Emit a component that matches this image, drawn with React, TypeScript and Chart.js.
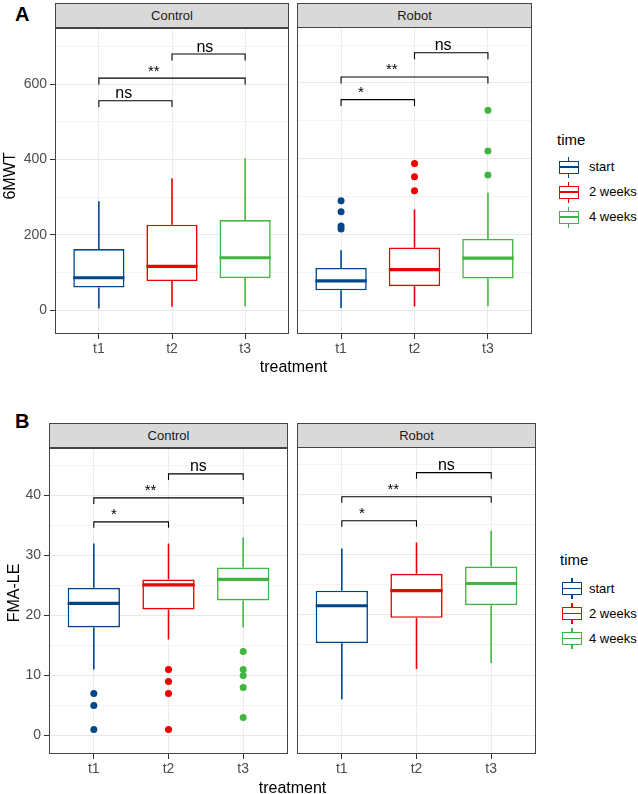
import React, { useEffect, useRef } from "react";
import { Chart, registerables } from "chart.js";

Chart.register(...registerables);

const FONT = "'Liberation Sans', Arial, Helvetica, sans-serif";
Chart.defaults.font.family = FONT;

// ---------- data ----------
const TREATMENTS = ["t1", "t2", "t3"];
const TREATMENT_POS = [1, 2, 3];
const TIMES = ["start", "2 weeks", "4 weeks"];
const COLORS = ["#00468B", "#ED0000", "#42B540"];
const FACETS = ["Control", "Robot"];

// boxplot stats per treatment: [lower whisker, Q1, median, Q3, upper whisker]
const MWT_CONTROL_STATS = [
  [4, 60, 86, 162, 289],
  [9, 77, 116, 227, 350],
  [10, 85, 139, 239, 403],
];
const MWT_CONTROL_OUTLIERS = [[], [], []];
const MWT_ROBOT_STATS = [
  [5, 52, 77, 111, 158],
  [9, 63, 107, 165, 266],
  [10, 83, 137, 188, 310],
];
const MWT_ROBOT_OUTLIERS = [
  [289, 260, 222, 214],
  [387, 352, 315],
  [528, 420, 357],
];

const FMA_CONTROL_STATS = [
  [11, 18, 22, 24.6, 32],
  [16, 21, 25.1, 26, 32],
  [18, 22.5, 26, 28, 33],
];
const FMA_CONTROL_OUTLIERS = [
  [7, 5, 1],
  [11, 9, 7, 1],
  [14, 11, 10, 8, 3],
];
const FMA_ROBOT_STATS = [
  [6, 15.3, 21.5, 24, 31],
  [11, 19.5, 24, 26.8, 32],
  [12, 21.6, 25.2, 28, 34],
];
const FMA_ROBOT_OUTLIERS = [[], [], []];

// axes
const MWT_Y_RANGE = [-63.4, 748];
const MWT_Y_MAJOR = [0, 200, 400, 600];
const MWT_Y_MINOR = [100, 300, 500, 700];
const FMA_Y_RANGE = [-3.1, 47.85];
const FMA_Y_MAJOR = [0, 10, 20, 30, 40];
const FMA_Y_MINOR = [5, 15, 25, 35, 45];

// significance brackets
const BRACKET_PAIRS = [
  [1, 2],
  [1, 3],
  [2, 3],
];
const MWT_BRACKET_Y = [556, 616, 680];
const MWT_BRACKET_TIP = 17;
const MWT_CONTROL_SIG = ["ns", "**", "ns"];
const MWT_CONTROL_SIG_X = [1.34, 1.75, 2.45];
const MWT_ROBOT_SIG = ["*", "**", "ns"];
const MWT_ROBOT_SIG_X = [1.27, 1.69, 2.39];
const FMA_BRACKET_Y = [35.6, 39.6, 43.6];
const FMA_BRACKET_TIP = 1;
const FMA_CONTROL_SIG = ["*", "**", "ns"];
const FMA_CONTROL_SIG_X = [1.27, 1.76, 2.4];
const FMA_ROBOT_SIG = ["*", "**", "ns"];
const FMA_ROBOT_SIG_X = [1.27, 1.69, 2.4];

// ---------- layout (pixels) ----------
type Frame = { left: number; right: number; top: number; bottom: number };

interface FacetSpec {
  name: string;
  frame: Frame;
  stripTop: number;
  showY: boolean;
  stats: number[][];
  outliers: number[][];
  yRange: number[];
  yMajor: number[];
  yMinor: number[];
  bracketY: number[];
  bracketTip: number;
  sig: string[];
  sigX: number[];
}

const PAD_T = 10;
const PAD_SIDE = 4;
const X_AXIS_H = 30;
const BOX_HALF = 0.35;

function Facet({ spec }: { spec: FacetSpec }) {
  const ref = useRef<HTMLCanvasElement | null>(null);
  const f = spec.frame;
  const cLeft = spec.showY ? 0 : f.left - PAD_SIDE;
  const cTop = f.top - PAD_T;
  const cW = f.right + PAD_SIDE - cLeft;
  const cH = f.bottom + X_AXIS_H - cTop;

  useEffect(() => {
    const canvas = ref.current;
    if (!canvas) return;
    const datasets: any[] = [];
    datasets.push({
      type: "bar",
      data: spec.stats.map((s, i) => ({ x: TREATMENT_POS[i], y: [s[1], s[3]] })),
      backgroundColor: "#ffffff",
      borderColor: COLORS,
      borderWidth: 1.6,
      borderSkipped: false,
      barPercentage: BOX_HALF * 2,
      categoryPercentage: 1,
      order: 3,
    });
    spec.stats.forEach((s, i) => {
      const x = TREATMENT_POS[i];
      const line = (data: any[], width: number, order: number) => ({
        type: "scatter",
        data,
        showLine: true,
        borderColor: COLORS[i],
        borderWidth: width,
        borderCapStyle: "butt",
        pointRadius: 0,
        pointHoverRadius: 0,
        fill: false,
        order,
      });
      datasets.push(line([{ x, y: s[3] }, { x, y: s[4] }], 1.6, 4));
      datasets.push(line([{ x, y: s[0] }, { x, y: s[1] }], 1.6, 4));
      datasets.push(
        line([{ x: x - BOX_HALF, y: s[2] }, { x: x + BOX_HALF, y: s[2] }], 3.2, 1)
      );
      datasets.push({
        type: "scatter",
        data: spec.outliers[i].map((v) => ({ x, y: v })),
        pointRadius: 3.5,
        pointHoverRadius: 3.5,
        pointBackgroundColor: COLORS[i],
        pointBorderColor: COLORS[i],
        pointBorderWidth: 0,
        showLine: false,
        order: 2,
      });
    });
    BRACKET_PAIRS.forEach(([a, b], k) => {
      const y = spec.bracketY[k];
      const t = y - spec.bracketTip;
      datasets.push({
        type: "scatter",
        data: [
          { x: a, y: t },
          { x: a, y },
          { x: b, y },
          { x: b, y: t },
        ],
        showLine: true,
        borderColor: "#000000",
        borderWidth: 1.1,
        pointRadius: 0,
        pointHoverRadius: 0,
        fill: false,
        order: 0,
      });
    });

    const isMajor = (v: number) => spec.yMajor.includes(v);
    const allY = [...spec.yMajor, ...spec.yMinor].sort((a, b) => a - b);

    const borderPlugin = {
      id: "panelBorder",
      afterDatasetsDraw(chart: any) {
        const { ctx, chartArea: a } = chart;
        ctx.save();
        ctx.strokeStyle = "#444444";
        ctx.lineWidth = 1;
        ctx.strokeRect(
          Math.round(a.left) + 0.5,
          Math.round(a.top) + 0.5,
          Math.round(a.right - a.left) - 1,
          Math.round(a.bottom - a.top) - 1
        );
        ctx.restore();
      },
    };
    const sigPlugin = {
      id: "sigLabels",
      afterDatasetsDraw(chart: any) {
        const { ctx } = chart;
        const xs = chart.scales.x;
        const ys = chart.scales.y;
        ctx.save();
        ctx.fillStyle = "#000000";
        ctx.textAlign = "center";
        ctx.textBaseline = "alphabetic";
        spec.sig.forEach((lab, k) => {
          ctx.font = `${lab === "ns" ? 16 : 15}px ${FONT}`;
          ctx.fillText(
            lab,
            xs.getPixelForValue(spec.sigX[k]),
            ys.getPixelForValue(spec.bracketY[k]) - 2.5
          );
        });
        ctx.restore();
      },
    };

    const chart = new Chart(canvas, {
      type: "scatter",
      data: { datasets },
      options: {
        responsive: false,
        maintainAspectRatio: false,
        animation: false,
        events: [],
        layout: {
          padding: {
            top: PAD_T,
            right: PAD_SIDE,
            bottom: 0,
            left: spec.showY ? 0 : PAD_SIDE,
          },
        },
        plugins: {
          legend: { display: false },
          tooltip: { enabled: false },
          title: { display: false },
        },
        scales: {
          x: {
            type: "linear",
            min: 0.4,
            max: 3.6,
            offset: false,
            afterBuildTicks: (s: any) => {
              s.ticks = TREATMENT_POS.map((v) => ({ value: v }));
            },
            afterFit: (s: any) => {
              s.height = X_AXIS_H;
            },
            ticks: {
              callback: (_v: any, i: number) => TREATMENTS[i],
              color: "#4d4d4d",
              font: { size: 14, family: FONT },
              padding: 2,
              maxRotation: 0,
              autoSkip: false,
            },
            grid: {
              offset: false,
              color: "#ebebeb",
              lineWidth: 1,
              drawTicks: true,
              tickLength: 5,
              tickColor: "#333333",
              tickWidth: 1,
            },
            border: { display: false },
          },
          y: {
            type: "linear",
            min: spec.yRange[0],
            max: spec.yRange[1],
            afterBuildTicks: (s: any) => {
              s.ticks = allY.map((v) => ({ value: v }));
            },
            afterFit: (s: any) => {
              s.width = spec.showY ? f.left : 0;
            },
            ticks: {
              display: spec.showY,
              callback: (v: any) => (isMajor(Number(v)) ? String(v) : ""),
              color: "#4d4d4d",
              font: { size: 14, family: FONT },
              padding: 3,
              autoSkip: false,
            },
            grid: {
              color: (ctx: any) =>
                ctx.tick && isMajor(ctx.tick.value) ? "#e8e8e8" : "#f3f3f3",
              lineWidth: 1,
              drawTicks: spec.showY,
              tickLength: 5,
              tickColor: (ctx: any) =>
                ctx.tick && isMajor(ctx.tick.value) ? "#333333" : "rgba(0,0,0,0)",
              tickWidth: 1,
            },
            border: { display: false },
          },
        },
      },
      plugins: [borderPlugin, sigPlugin],
    } as any);
    return () => chart.destroy();
  }, []);

  return (
    <>
      <div
        style={{
          position: "absolute",
          left: f.left,
          top: spec.stripTop,
          width: f.right - f.left,
          height: f.top - spec.stripTop + 1,
          boxSizing: "border-box",
          background: "#d9d9d9",
          border: "1px solid #444444",
          font: `13px ${FONT}`,
          color: "#1a1a1a",
          display: "flex",
          alignItems: "center",
          justifyContent: "center",
        }}
      >
        {spec.name}
      </div>
      <canvas
        ref={ref}
        width={cW}
        height={cH}
        style={{
          position: "absolute",
          left: cLeft,
          top: cTop,
          width: cW,
          height: cH,
        }}
      />
    </>
  );
}

function Legend({
  titleX,
  titleY,
  keyX,
  labelX,
  centers,
}: {
  titleX: number;
  titleY: number;
  keyX: number;
  labelX: number;
  centers: number[];
}) {
  const KW = 20;
  return (
    <>
      <div
        style={{
          position: "absolute",
          left: titleX,
          top: titleY - 9,
          font: `15px ${FONT}`,
          lineHeight: "18px",
          color: "#000",
        }}
      >
        time
      </div>
      {TIMES.map((t, i) => {
        const cy = centers[i];
        return (
          <React.Fragment key={t}>
            <div
              style={{
                position: "absolute",
                left: keyX + KW / 2 - 0.75,
                top: cy - 10.5,
                width: 1.5,
                height: 21,
                background: COLORS[i],
              }}
            />
            <div
              style={{
                position: "absolute",
                left: keyX,
                top: cy - 6.5,
                width: KW,
                height: 13,
                boxSizing: "border-box",
                border: `1.5px solid ${COLORS[i]}`,
                background: "#fff",
              }}
            />
            <div
              style={{
                position: "absolute",
                left: keyX,
                top: cy - 0.75,
                width: KW,
                height: 1.5,
                background: COLORS[i],
              }}
            />
            <div
              style={{
                position: "absolute",
                left: labelX,
                top: cy - 8,
                font: `13px ${FONT}`,
                lineHeight: "16px",
                color: "#000",
                whiteSpace: "nowrap",
              }}
            >
              {t}
            </div>
          </React.Fragment>
        );
      })}
    </>
  );
}

function Label({
  text,
  cx,
  cy,
  size,
  bold,
  rotate,
}: {
  text: string;
  cx: number;
  cy: number;
  size: number;
  bold?: boolean;
  rotate?: boolean;
}) {
  return (
    <div
      style={{
        position: "absolute",
        left: cx - 100,
        top: cy - size / 2,
        width: 200,
        height: size,
        lineHeight: `${size}px`,
        textAlign: "center",
        font: `${bold ? "bold " : ""}${size}px ${FONT}`,
        color: "#000",
        transform: rotate ? "rotate(-90deg)" : undefined,
        whiteSpace: "nowrap",
      }}
    >
      {text}
    </div>
  );
}

const FACET_SPECS: FacetSpec[] = [
  {
    name: FACETS[0],
    frame: { left: 55, right: 289, top: 27, bottom: 334 },
    stripTop: 3,
    showY: true,
    stats: MWT_CONTROL_STATS,
    outliers: MWT_CONTROL_OUTLIERS,
    yRange: MWT_Y_RANGE,
    yMajor: MWT_Y_MAJOR,
    yMinor: MWT_Y_MINOR,
    bracketY: MWT_BRACKET_Y,
    bracketTip: MWT_BRACKET_TIP,
    sig: MWT_CONTROL_SIG,
    sigX: MWT_CONTROL_SIG_X,
  },
  {
    name: FACETS[1],
    frame: { left: 297, right: 532, top: 27, bottom: 334 },
    stripTop: 3,
    showY: false,
    stats: MWT_ROBOT_STATS,
    outliers: MWT_ROBOT_OUTLIERS,
    yRange: MWT_Y_RANGE,
    yMajor: MWT_Y_MAJOR,
    yMinor: MWT_Y_MINOR,
    bracketY: MWT_BRACKET_Y,
    bracketTip: MWT_BRACKET_TIP,
    sig: MWT_ROBOT_SIG,
    sigX: MWT_ROBOT_SIG_X,
  },
  {
    name: FACETS[0],
    frame: { left: 49, right: 288, top: 447, bottom: 754 },
    stripTop: 423,
    showY: true,
    stats: FMA_CONTROL_STATS,
    outliers: FMA_CONTROL_OUTLIERS,
    yRange: FMA_Y_RANGE,
    yMajor: FMA_Y_MAJOR,
    yMinor: FMA_Y_MINOR,
    bracketY: FMA_BRACKET_Y,
    bracketTip: FMA_BRACKET_TIP,
    sig: FMA_CONTROL_SIG,
    sigX: FMA_CONTROL_SIG_X,
  },
  {
    name: FACETS[1],
    frame: { left: 297, right: 536, top: 447, bottom: 754 },
    stripTop: 423,
    showY: false,
    stats: FMA_ROBOT_STATS,
    outliers: FMA_ROBOT_OUTLIERS,
    yRange: FMA_Y_RANGE,
    yMajor: FMA_Y_MAJOR,
    yMinor: FMA_Y_MINOR,
    bracketY: FMA_BRACKET_Y,
    bracketTip: FMA_BRACKET_TIP,
    sig: FMA_ROBOT_SIG,
    sigX: FMA_ROBOT_SIG_X,
  },
];

export default function App() {
  return (
    <div
      style={{
        position: "absolute",
        left: 0,
        top: 0,
        width: 638,
        height: 794,
        background: "#ffffff",
        overflow: "hidden",
        fontFamily: FONT,
      }}
    >
      <div
        style={{
          position: "absolute",
          left: 15,
          top: 4,
          font: `bold 20px ${FONT}`,
          lineHeight: "20px",
        }}
      >
        A
      </div>
      <div
        style={{
          position: "absolute",
          left: 15,
          top: 411,
          font: `bold 20px ${FONT}`,
          lineHeight: "20px",
        }}
      >
        B
      </div>
      {FACET_SPECS.map((s, i) => (
        <Facet key={i} spec={s} />
      ))}
      <Label text="6MWT" cx={9} cy={176} size={16} rotate />
      <Label text="FMA-LE" cx={12.5} cy={593} size={16} rotate />
      <Label text="treatment" cx={293.5} cy={366} size={16} />
      <Label text="treatment" cx={292.5} cy={787} size={16} />
      <Legend titleX={557} titleY={140} keyX={558.5} labelX={589} centers={[167, 192, 217]} />
      <Legend titleX={560} titleY={560} keyX={562} labelX={589} centers={[588.7, 613.7, 638.7]} />
    </div>
  );
}
